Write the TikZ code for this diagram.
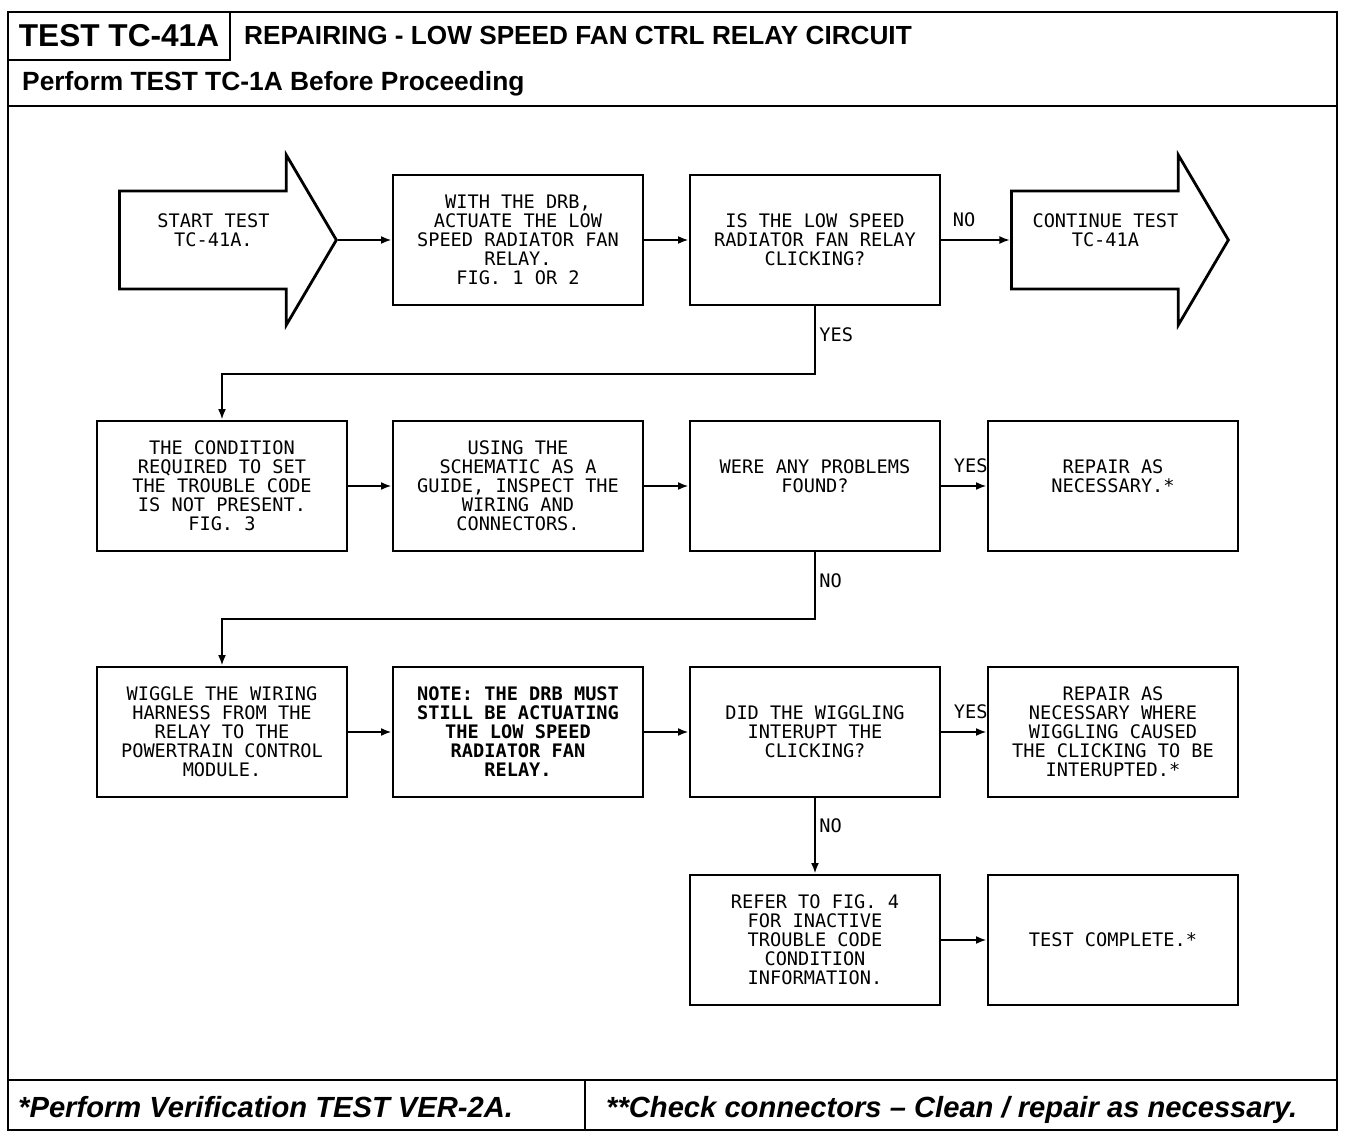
\documentclass[tikz,border=0pt]{standalone}
\usepackage{fontspec}
\newfontfamily\plotfont{DejaVu Sans Mono}
\newfontfamily\headfont{Liberation Sans}
\newcommand{\boxfont}{\plotfont\fontsize{10.6}{10.8}\selectfont}
\usetikzlibrary{arrows.meta, shapes.arrows, positioning}

\tikzset{
  stepbox/.style={draw, line width=1.6pt, minimum width=5cm, minimum height=2.6cm,
    align=center, inner sep=0pt, font=\boxfont},
  bigarrow/.style={draw, line width=1.6pt, single arrow, single arrow head extend=0.4cm,
    single arrow tip angle=119, minimum height=4.34cm, minimum width=3.4cm,
    align=center, inner sep=0pt, font=\boxfont},
  flowline/.style={->, line width=1.1pt},
  answer/.style={font=\boxfont, inner sep=2pt},
}

\begin{document}
\begin{tikzpicture}[x=0.02cm, y=-0.02cm, >={Latex[length=6pt,width=4.5pt]}]
    \useasboundingbox (0,0) rectangle (1360,1142);

    % Khung ngoai va tieu de
    \draw[line width=1.4pt] (8,12) rectangle (1337,1130);
    \draw[line width=1.4pt] (8,12) rectangle (230,60);
    \draw[line width=1.4pt] (8,106) -- (1337,106);
    \draw[line width=1.4pt] (8,1080) -- (1337,1080);
    \draw[line width=1.4pt] (585,1080) -- (585,1130);
    \node (title) at (119,36) {\headfont\bfseries\fontsize{18}{20}\selectfont TEST TC-41A};
    \node[anchor=west] (heading) at (238,35)
        {\headfont\bfseries\fontsize{14.9}{17}\selectfont REPAIRING - LOW SPEED FAN CTRL RELAY CIRCUIT};
    \node[anchor=west] (before) at (16,84)
        {\headfont\bfseries\fontsize{15}{17}\selectfont Perform TEST TC-1A Before Proceeding};
    \node[anchor=west] (verify) at (12,1107)
        {\headfont\bfseries\itshape\fontsize{16.6}{19}\selectfont *Perform Verification TEST VER-2A.};
    \node[anchor=west] (check) at (600,1110)
        {\headfont\bfseries\itshape\fontsize{16.6}{19}\selectfont **Check connectors – Clean / repair as necessary.};

    % Hang 1
    \node[bigarrow, anchor=west] (start) at (118,240) {START TEST\\TC-41A.\\~};
    \node[stepbox] (drb) at (518,240) {WITH THE DRB,\\ACTUATE THE LOW\\SPEED RADIATOR FAN\\RELAY.\\FIG. 1 OR 2};
    \node[stepbox] (ask) at (815,240) {IS THE LOW SPEED\\RADIATOR FAN RELAY\\CLICKING?};
    \node[bigarrow, anchor=west] (cont) at (1010,240) {CONTINUE TEST\\TC-41A\\~};

    % Hang 2
    \node[stepbox] (cond) at (222,486) {THE CONDITION\\REQUIRED TO SET\\THE TROUBLE CODE\\IS NOT PRESENT.\\FIG. 3};
    \node[stepbox] (guide) at (518,486) {USING THE\\SCHEMATIC AS A\\GUIDE, INSPECT THE\\WIRING AND\\CONNECTORS.};
    \node[stepbox] (found) at (815,486) {WERE ANY PROBLEMS\\FOUND?\\~};
    \node[stepbox] (fixa) at (1113,486) {REPAIR AS\\NECESSARY.*\\~};

    % Hang 3
    \node[stepbox] (wiggle) at (222,732) {WIGGLE THE WIRING\\HARNESS FROM THE\\RELAY TO THE\\POWERTRAIN CONTROL\\MODULE.};
    \node[stepbox] (note) at (518,732) {\bfseries NOTE: THE DRB MUST\\\bfseries STILL BE ACTUATING\\\bfseries THE LOW SPEED\\\bfseries RADIATOR FAN\\\bfseries RELAY.};
    \node[stepbox] (interrupt) at (815,732) {DID THE WIGGLING\\INTERUPT THE\\CLICKING?};
    \node[stepbox] (fixb) at (1113,732) {REPAIR AS\\NECESSARY WHERE\\WIGGLING CAUSED\\THE CLICKING TO BE\\INTERUPTED.*};

    % Hang 4
    \node[stepbox] (refer) at (815,940) {REFER TO FIG. 4\\FOR INACTIVE\\TROUBLE CODE\\CONDITION\\INFORMATION.};
    \node[stepbox] (done) at (1113,940) {TEST COMPLETE.*};

    % Cac mui ten
    \draw[flowline] (start.east) -- (drb.west);
    \draw[flowline] (drb) -- (ask);
    \draw[flowline] (ask) -- node[answer, above=5pt, pos=0.33] {NO} (cont.west);
    \draw[flowline] (ask.south) -- node[answer, right, pos=0.42] {YES} ++(0,68) -| (cond.north);
    \draw[flowline] (cond) -- (guide);
    \draw[flowline] (guide) -- (found);
    \draw[flowline] (found) -- node[answer, above=5pt, pos=0.65] {YES} (fixa);
    \draw[flowline] (found.south) -- node[answer, right, pos=0.43] {NO} ++(0,67) -| (wiggle.north);
    \draw[flowline] (wiggle) -- (note);
    \draw[flowline] (note) -- (interrupt);
    \draw[flowline] (interrupt) -- node[answer, above=5pt, pos=0.65] {YES} (fixb);
    \draw[flowline] (interrupt) -- node[answer, right, pos=0.36] {NO} (refer);
    \draw[flowline] (refer) -- (done);
\end{tikzpicture}
\end{document}
